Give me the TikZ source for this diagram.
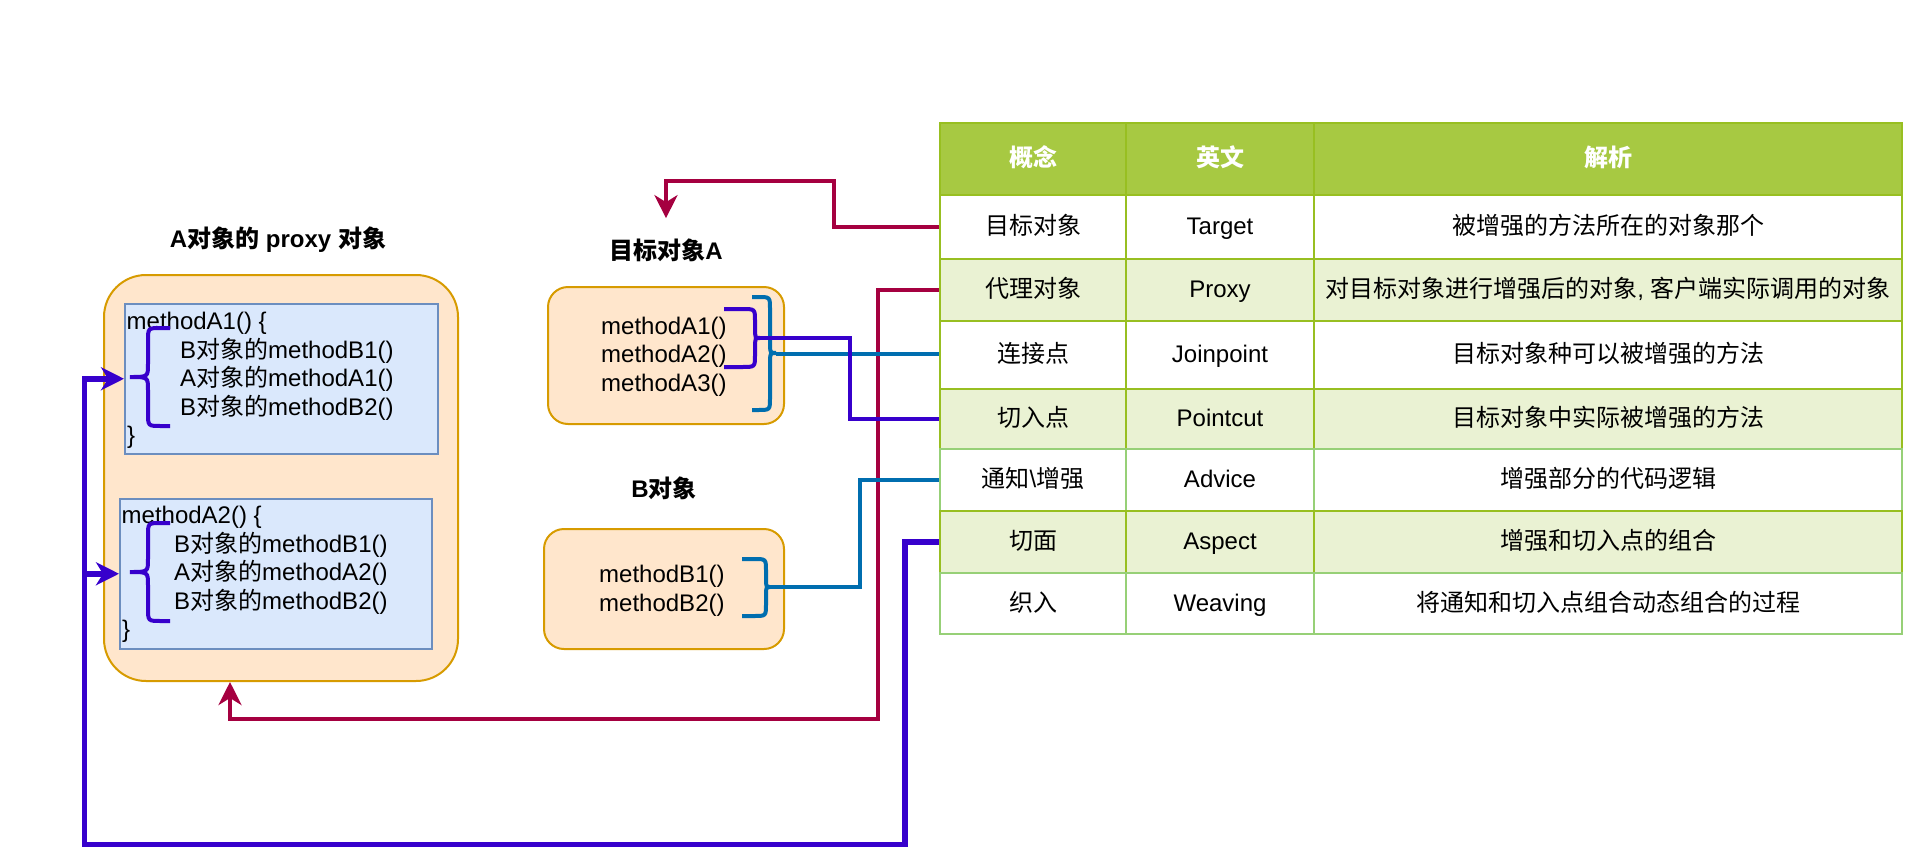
\documentclass[tikz,border=0pt]{standalone}
\usepackage{fontspec}
\setmainfont{Liberation Sans}
\newfontfamily\cjk{Noto Sans CJK SC}
\usetikzlibrary{arrows.meta,calc}
\newcommand\zh[1]{{\cjk #1}}
\definecolor{orfill}{HTML}{FFE6CC}
\definecolor{orline}{HTML}{D79B00}
\definecolor{blfill}{HTML}{DAE8FC}
\definecolor{blline}{HTML}{6C8EBF}
\definecolor{cred}{HTML}{A50040}
\definecolor{cblue}{HTML}{006EAF}
\definecolor{cpurp}{HTML}{3700CC}
\definecolor{hdr}{HTML}{A7C942}
\definecolor{grline}{HTML}{98BF21}
\definecolor{grlight}{HTML}{97D077}
\definecolor{altrow}{HTML}{EAF2D3}
\tikzset{
  txt/.style={anchor=base west, inner sep=0pt},
  ttl/.style={anchor=base, inner sep=0pt, font=\fontsize{24pt}{28.5pt}\selectfont\bfseries},
  cell/.style={anchor=north west, inner sep=0pt, line width=2pt, text height=20pt, text depth=5pt},
  orbox/.style={draw=orline, fill=orfill, line width=2pt, anchor=north west, inner sep=0pt},
  blbox/.style={draw=blline, fill=blfill, line width=1.5pt, anchor=north west, inner sep=0pt},
  arr/.style={-{Stealth[length=23pt,width=23pt,inset=7pt]}},
  redln/.style={draw=cred, line width=4pt},
  blueln/.style={draw=cblue, line width=4pt},
  purpln/.style={draw=cpurp, line width=4pt},
  purpbig/.style={draw=cpurp, line width=5.5pt},
}
% row: name, ytop, height, fill, stroke, t1, t2, t3
\newcommand\trow[8]{%
  \node[cell, fill=#4, draw=#5, minimum width=186pt, minimum height=#3pt] (#1a) at (939,#2) {#6};
  \node[cell, fill=#4, draw=#5, minimum width=188pt, minimum height=#3pt] (#1b) at (1125,#2) {#7};
  \node[cell, fill=#4, draw=#5, minimum width=588pt, minimum height=#3pt] (#1c) at (1313,#2) {#8};
}
\begin{document}
\begin{tikzpicture}[x=1pt,y=-1pt,font=\fontsize{24pt}{28.5pt}\selectfont]
\useasboundingbox (0,0) rectangle (1915,865);

% ---- titles
\node[ttl] (tProxy) at (278,247) {A\zh{对象的} proxy \zh{对象}};
\node[ttl, inner ysep=20pt] (titleA) at (666,259) {\zh{目标对象}A};
\node[ttl] (titleB) at (664,497) {B\zh{对象}};

% ---- proxy object
\node[orbox, rounded corners=42pt, minimum width=354pt, minimum height=406pt] (proxy) at (103,274) {};
\node[blbox, minimum width=313pt, minimum height=150pt] (m1box) at (124,303) {};
\node[blbox, minimum width=312pt, minimum height=150pt] (m2box) at (119,498) {};

\node[txt] (m1a) at (126.5,329.5) {methodA1() \{};
\node[txt] (m1b) at (180,358) {B\zh{对象的}methodB1()};
\node[txt] (m1c) at (180,386.5) {A\zh{对象的}methodA1()};
\node[txt] (m1d) at (180,415) {B\zh{对象的}methodB2()};
\node[txt] (m1e) at (127,443) {\}};

\node[txt] (m2a) at (121.5,523.5) {methodA2() \{};
\node[txt] (m2b) at (174,552) {B\zh{对象的}methodB1()};
\node[txt] (m2c) at (174,580.5) {A\zh{对象的}methodA2()};
\node[txt] (m2d) at (174,609) {B\zh{对象的}methodB2()};
\node[txt] (m2e) at (122,637.5) {\}};

% ---- target A and B
\node[orbox, rounded corners=20pt, minimum width=236pt, minimum height=137pt] (boxA) at (547,286) {};
\node[txt] (a1) at (601,334) {methodA1()};
\node[txt] (a2) at (601,362.5) {methodA2()};
\node[txt] (a3) at (601,391) {methodA3()};

\node[orbox, rounded corners=20pt, minimum width=240pt, minimum height=120pt] (boxB) at (543,528) {};
\node[txt] (b1) at (599,582.5) {methodB1()};
\node[txt] (b2) at (599,611) {methodB2()};

% ---- braces
\draw[purpln] (170,328) -- (161,328) .. controls (148,328) .. (148,341) -- (148,364)
  .. controls (148,377) .. (130,377) .. controls (148,377) .. (148,390) -- (148,413)
  .. controls (148,426) .. (161,426) -- (170,426);
\draw[purpln] (170,523) -- (161,523) .. controls (148,523) .. (148,536) -- (148,559)
  .. controls (148,572) .. (130,572) .. controls (148,572) .. (148,585) -- (148,608)
  .. controls (148,621) .. (161,621) -- (170,621);
\draw[blueln] (752,297) -- (758,297) .. controls (770,297) .. (770,309) -- (770,341)
  .. controls (770,353) .. (776,353) .. controls (770,353) .. (770,365) -- (770,398)
  .. controls (770,410) .. (758,410) -- (752,410);
\draw[purpln] (724,309) -- (742,309) .. controls (755,309) .. (755,321) -- (755,327)
  .. controls (755,338) .. (760,338) .. controls (755,338) .. (755,349) -- (755,355)
  .. controls (755,367) .. (742,367) -- (724,367);
\draw[blueln] (742,559) -- (754,559) .. controls (766,559) .. (766,571) -- (766,575)
  .. controls (766,587) .. (770,587) .. controls (766,587) .. (766,599) -- (766,604)
  .. controls (766,616) .. (754,616) -- (742,616);
\coordinate (tipBig) at (776,354);
\coordinate (tipPA) at (760,338);
\coordinate (tipB) at (770,587);

% ---- table
\trow{h}{122}{72}{hdr}{grline}{\color{white}\bfseries\zh{概念}}{\color{white}\bfseries\zh{英文}}{\color{white}\bfseries\zh{解析}}
\trow{r1}{194}{64}{white}{grline}{\zh{目标对象}}{Target}{\zh{被增强的方法所在的对象那个}}
\trow{r2}{258}{62}{altrow}{grline}{\zh{代理对象}}{Proxy}{\zh{对目标对象进行增强后的对象}, \zh{客户端实际调用的对象}}
\trow{r3}{320}{68}{white}{grline}{\zh{连接点}}{Joinpoint}{\zh{目标对象种可以被增强的方法}}
\trow{r4}{388}{60}{altrow}{grline}{\zh{切入点}}{Pointcut}{\zh{目标对象中实际被增强的方法}}
\trow{r5}{448}{62}{white}{grlight}{\zh{通知}\textbackslash\zh{增强}}{Advice}{\zh{增强部分的代码逻辑}}
\trow{r6}{510}{62}{altrow}{grline}{\zh{切面}}{Aspect}{\zh{增强和切入点的组合}}
\trow{r7}{572}{61}{white}{grlight}{\zh{织入}}{Weaving}{\zh{将通知和切入点组合动态组合的过程}}

% ---- connectors
\draw[redln, arr] (r1a.west) -- ++(-105,0) -- ++(0,-46) -| (titleA.north);
\draw[redln, arr] (r2a.west) -| (878,719) -| ([xshift=-51pt]proxy.south);
\draw[blueln] (tipBig) -- (tipBig -| r3a.west);
\draw[purpln] (tipPA) -- ++(90,0) |- (r4a.west);
\draw[blueln] (tipB) -- ++(90,0) |- (r5a.west);
\coordinate (pv) at (84.5,844.5);
\draw[purpbig, arr] (r6a.west) -- ++(-34,0) |- (pv) |- (m1box.west);
\draw[purpbig, arr] (pv |- m2box.west) -- (m2box.west);
\end{tikzpicture}
\end{document}
